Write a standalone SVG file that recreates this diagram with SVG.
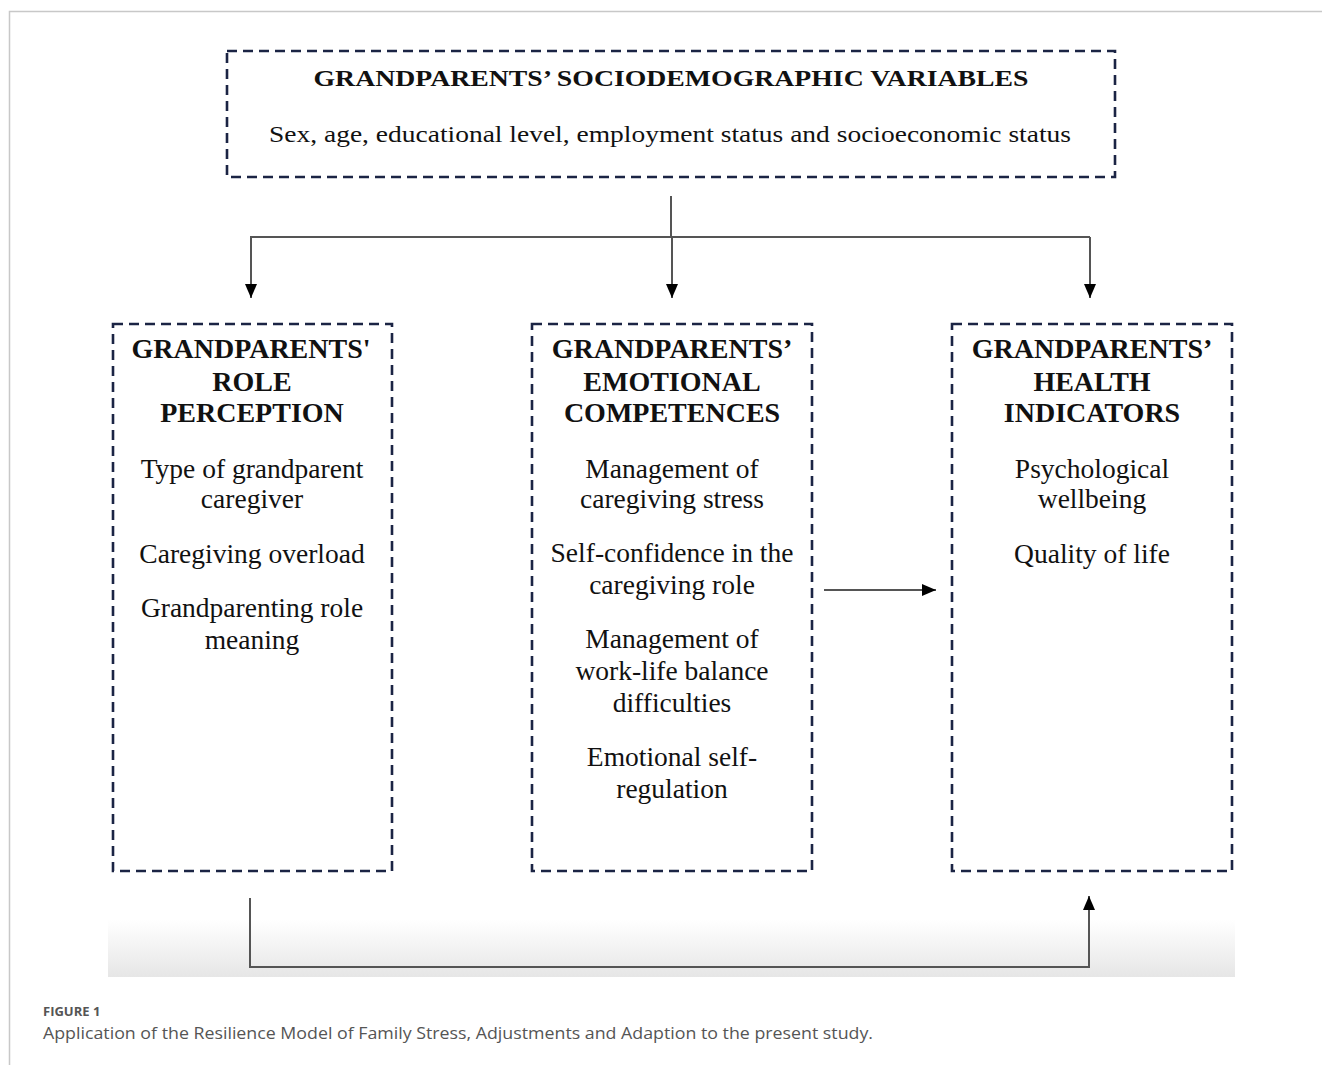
<svg xmlns="http://www.w3.org/2000/svg" width="1322" height="1065" viewBox="0 0 1322 1065">
<defs>
<linearGradient id="fade" x1="0" y1="0" x2="0" y2="1">
<stop offset="0" stop-color="#ffffff"/>
<stop offset="1" stop-color="#e6e6e6"/>
</linearGradient>
<marker id="ah2" viewBox="0 0 14 12" refX="14" refY="6" markerWidth="14" markerHeight="12" markerUnits="userSpaceOnUse" orient="auto">
<path d="M0,0 L14,6 L0,12 z" fill="#000"/>
</marker>
</defs>
<style>
.box{fill:none;stroke:#1b2444;stroke-width:2.6;stroke-dasharray:10 6}
.h{font-family:"Liberation Serif","Times New Roman",serif;font-weight:bold;font-size:28px;fill:#111;text-anchor:middle}
.b{font-family:"Liberation Serif","Times New Roman",serif;font-size:27.5px;fill:#111;text-anchor:middle}
.t{font-size:24px}
.c{fill:none;stroke:#555;stroke-width:2}
.cap{font-family:"Open Sans","Lato",sans-serif;fill:#555}
</style>
<rect width="1322" height="1065" fill="#fff"/>
<path d="M9.5,1065 V11.5 H1322" fill="none" stroke="#c8c8c8" stroke-width="1.5"/>
<rect x="108" y="920" width="1127" height="57" fill="url(#fade)"/>

<g id="node-sociodemographic">
<rect class="box" x="227" y="51" width="888" height="126"/>
<text class="h t" x="671" y="86" textLength="715" lengthAdjust="spacingAndGlyphs">GRANDPARENTS’ SOCIODEMOGRAPHIC VARIABLES</text>
<text class="b t" x="670" y="142" textLength="802" lengthAdjust="spacingAndGlyphs">Sex, age, educational level, employment status and socioeconomic status</text>
</g>

<g id="node-role">
<rect class="box" x="113" y="324" width="279" height="547"/>
<text class="h" x="251" y="358">GRANDPARENTS'</text>
<text class="h" x="252" y="391">ROLE</text>
<text class="h" x="252" y="422">PERCEPTION</text>
<text class="b" x="252" y="478">Type of grandparent</text>
<text class="b" x="252" y="508">caregiver</text>
<text class="b" x="252" y="563">Caregiving overload</text>
<text class="b" x="252" y="617">Grandparenting role</text>
<text class="b" x="252" y="649">meaning</text>
</g>

<g id="node-emotional">
<rect class="box" x="532" y="324" width="280" height="547"/>
<text class="h" x="672" y="358">GRANDPARENTS’</text>
<text class="h" x="672" y="391">EMOTIONAL</text>
<text class="h" x="672" y="422">COMPETENCES</text>
<text class="b" x="672" y="478">Management of</text>
<text class="b" x="672" y="508">caregiving stress</text>
<text class="b" x="672" y="562">Self-confidence in the</text>
<text class="b" x="672" y="594">caregiving role</text>
<text class="b" x="672" y="648">Management of</text>
<text class="b" x="672" y="680">work-life balance</text>
<text class="b" x="672" y="712">difficulties</text>
<text class="b" x="672" y="766">Emotional self-</text>
<text class="b" x="672" y="798">regulation</text>
</g>

<g id="node-health">
<rect class="box" x="952" y="324" width="280" height="547"/>
<text class="h" x="1092" y="358">GRANDPARENTS’</text>
<text class="h" x="1092" y="391">HEALTH</text>
<text class="h" x="1092" y="422">INDICATORS</text>
<text class="b" x="1092" y="478">Psychological</text>
<text class="b" x="1092" y="508">wellbeing</text>
<text class="b" x="1092" y="563">Quality of life</text>
</g>

<g id="connectors">
<line class="c" x1="671" y1="196" x2="671" y2="237"/>
<line class="c" x1="250" y1="237" x2="1090" y2="237"/>
<line class="c" x1="251" y1="237" x2="251" y2="298" marker-end="url(#ah2)"/>
<line class="c" x1="672" y1="237" x2="672" y2="298" marker-end="url(#ah2)"/>
<line class="c" x1="1090" y1="237" x2="1090" y2="298" marker-end="url(#ah2)"/>
<line class="c" x1="824" y1="590" x2="936" y2="590" marker-end="url(#ah2)"/>
<polyline class="c" points="250,898 250,967 1089,967 1089,896" marker-end="url(#ah2)"/>
</g>

<text class="cap" x="43" y="1016" font-size="13" font-weight="bold">FIGURE 1</text>
<text class="cap" x="43" y="1039" font-size="17" textLength="830" lengthAdjust="spacingAndGlyphs">Application of the Resilience Model of Family Stress, Adjustments and Adaption to the present study.</text>
</svg>
